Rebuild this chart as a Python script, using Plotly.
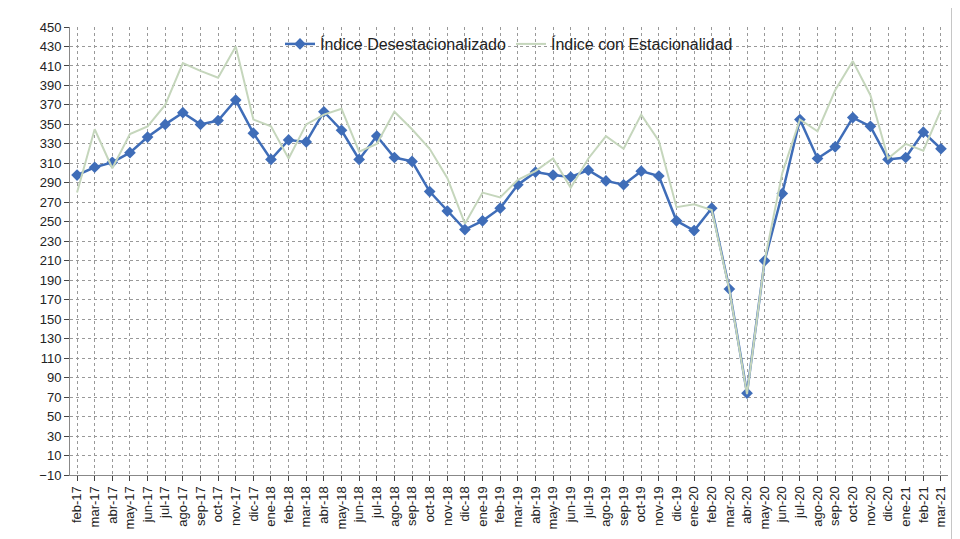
import plotly.graph_objects as go

months = ["feb-17","mar-17","abr-17","may-17","jun-17","jul-17","ago-17","sep-17","oct-17","nov-17","dic-17",
 "ene-18","feb-18","mar-18","abr-18","may-18","jun-18","jul-18","ago-18","sep-18","oct-18","nov-18","dic-18",
 "ene-19","feb-19","mar-19","abr-19","may-19","jun-19","jul-19","ago-19","sep-19","oct-19","nov-19","dic-19",
 "ene-20","feb-20","mar-20","abr-20","may-20","jun-20","jul-20","ago-20","sep-20","oct-20","nov-20","dic-20",
 "ene-21","feb-21","mar-21"]
deses = [298,306,311,321,337,350,362,350,354,375,341,
 314,334,332,363,344,314,338,316,312,281,261,242,
 251,264,288,301,298,296,303,292,288,302,297,251,
 241,264,181,74,210,279,355,315,327,357,348,314,
 316,342,325]
estac = [280,345,305,340,348,370,413,405,398,430,355,
 348,315,350,360,366,322,330,363,345,325,295,248,
 280,275,293,302,315,285,315,338,325,360,333,265,
 268,262,180,73,210,300,355,343,385,415,380,315,
 330,323,365]
yticks = list(range(-10, 451, 20))

fig = go.Figure()
fig.add_trace(go.Scatter(x=months, y=deses, name="Índice Desestacionalizado", mode="lines+markers",
    line=dict(color="#3F6DB8", width=2.5), marker=dict(symbol="diamond", size=9, color="#3F6DB8")))
fig.add_trace(go.Scatter(x=months, y=estac, name="Índice con Estacionalidad", mode="lines",
    line=dict(color="#C5D6BC", width=2)))
fig.update_layout(
    width=960, height=539, paper_bgcolor="white", plot_bgcolor="white",
    margin=dict(l=62, r=20, t=12, b=72),
    font=dict(family="Liberation Sans, Arial", size=13, color="#222"),
    legend=dict(orientation="h", x=0.5, xanchor="center", y=1.0, yanchor="top",
                bgcolor="rgba(255,255,255,0)", font=dict(size=16)),
    shapes=[dict(type="rect", xref="paper", yref="paper", x0=1.004, x1=1.03, y0=-0.2, y1=1.05,
                 fillcolor="#8c8c8c", line_width=0, layer="above")],
)
fig.update_xaxes(tickangle=-90, showgrid=True, gridcolor="#999", griddash="dot", gridwidth=1,
                 showline=True, linecolor="#888", ticks="outside", tickfont=dict(size=13),
                 range=[-0.4, len(months)-0.6])
fig.update_yaxes(range=[-10, 450], tickvals=yticks, showgrid=True, gridcolor="#999", griddash="dot",
                 showline=True, linecolor="#888", ticks="outside", zeroline=False, tickfont=dict(size=13))
fig.write_html("out.html")
